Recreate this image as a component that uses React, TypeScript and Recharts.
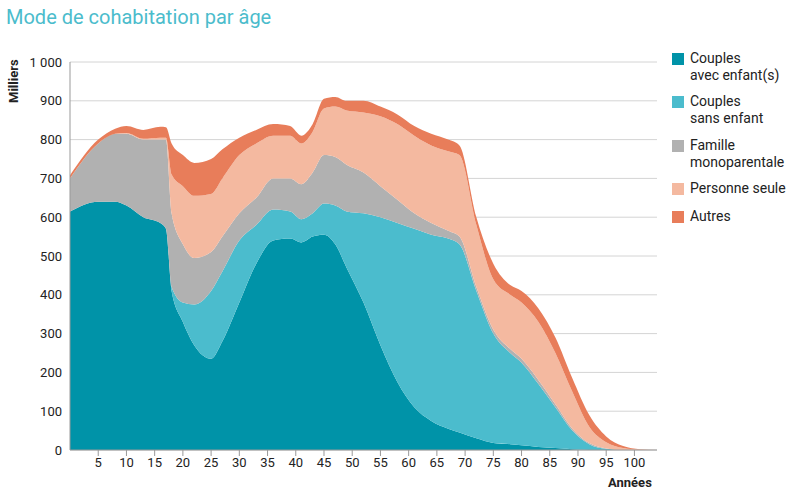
import { AreaChart, Area, XAxis, YAxis, CartesianGrid } from "recharts";

const ages = [0, 5, 8, 10, 13, 16, 17, 18, 20, 22, 25, 27, 30, 33, 36, 39, 41, 43, 45, 47, 49, 52, 55, 58, 61, 64, 67, 69, 72, 75, 78, 80, 83, 86, 89, 92, 95, 98, 101, 104];
// cumulative tops
const topEnfant = [615, 640, 640, 630, 600, 585, 570, 410, 330, 270, 235, 280, 380, 480, 540, 545, 535, 550, 555, 530, 470, 380, 270, 175, 110, 75, 55, 45, 30, 18, 15, 12, 8, 5, 2, 0, 0, 0, 0, 0];
const topSans = [615, 640, 640, 630, 600, 585, 570, 420, 380, 375, 410, 460, 540, 580, 620, 615, 595, 610, 635, 630, 615, 610, 600, 585, 570, 555, 545, 530, 410, 300, 250, 225, 170, 110, 50, 15, 3, 0, 0, 0];
const topFamille = [700, 790, 815, 815, 800, 800, 800, 610, 530, 495, 510, 550, 610, 650, 700, 700, 685, 715, 760, 755, 735, 715, 680, 645, 610, 585, 565, 550, 420, 310, 260, 235, 180, 118, 55, 18, 4, 0, 0, 0];
const topSeule = [700, 790, 815, 817, 802, 805, 805, 710, 680, 655, 660, 700, 760, 790, 810, 810, 790, 820, 880, 885, 875, 870, 860, 840, 810, 785, 770, 760, 580, 440, 400, 380, 330, 250, 150, 60, 20, 5, 1, 0];
const topAutres = [708, 800, 828, 835, 825, 833, 832, 790, 760, 740, 750, 775, 805, 825, 840, 835, 810, 840, 905, 910, 900, 900, 885, 865, 835, 815, 800, 785, 600, 480, 425, 410, 365, 290, 185, 90, 35, 10, 2, 0];

const yTicks = [0, 100, 200, 300, 400, 500, 600, 700, 800, 900, 1000];
const xTicks = [5, 10, 15, 20, 25, 30, 35, 40, 45, 50, 55, 60, 65, 70, 75, 80, 85, 90, 95, 100];

const series = [
  { key: "enfant", label: ["Couples", "avec enfant(s)"], color: "#0093a8" },
  { key: "sans", label: ["Couples", "sans enfant"], color: "#4bbccd" },
  { key: "famille", label: ["Famille", "monoparentale"], color: "#b1b1b1" },
  { key: "seule", label: ["Personne seule"], color: "#f4b9a0" },
  { key: "autres", label: ["Autres"], color: "#e87d5a" },
];

const data = ages.map((age, i) => ({
  age,
  enfant: topEnfant[i],
  sans: topSans[i] - topEnfant[i],
  famille: topFamille[i] - topSans[i],
  seule: topSeule[i] - topFamille[i],
  autres: topAutres[i] - topSeule[i],
}));

const font = "Roboto, sans-serif";
const legendTops = [50, 93, 137, 180, 208];

export default function App() {
  return (
    <div style={{ position: "absolute", left: 0, top: 0, width: 809, height: 499, fontFamily: font, background: "#fff" }}>
      <div style={{ position: "absolute", left: 6, top: 5, fontSize: 20, color: "#4bbccc" }}>Mode de cohabitation par âge</div>
      <div style={{ position: "absolute", left: 6, top: 103, transform: "rotate(-90deg)", transformOrigin: "left top", fontSize: 13, fontWeight: 700, color: "#222" }}>Milliers</div>
      <div style={{ position: "absolute", left: 608, top: 475, fontSize: 13, fontWeight: 700, color: "#222" }}>Années</div>
      <AreaChart width={660} height={499} data={data} margin={{ top: 62, right: 3, bottom: 19, left: 0 }}>
        <CartesianGrid vertical={false} stroke="#d4d4d4" />
        <XAxis dataKey="age" type="number" domain={[0, 104]} ticks={xTicks} height={30} interval={0}
          tick={{ fill: "#222", fontSize: 13, fontFamily: font }} tickLine={{ stroke: "#999" }} axisLine={{ stroke: "#999" }} />
        <YAxis width={70} domain={[0, 1000]} ticks={yTicks} interval={0}
          tickFormatter={(v: number) => (v >= 1000 ? "1 000" : String(v))}
          tick={{ fill: "#222", fontSize: 13, fontFamily: font }} tickLine={false} axisLine={{ stroke: "#999" }} />
        {series.map((s) => (
          <Area key={s.key} dataKey={s.key} stackId="a" type="monotone" stroke="none" fill={s.color} fillOpacity={1} isAnimationActive={false} />
        ))}
      </AreaChart>
      {series.map((s, i) => (
        <div key={s.key} style={{ position: "absolute", left: 672, top: legendTops[i], fontSize: 14, color: "#222", lineHeight: "17px" }}>
          <span style={{ position: "absolute", left: 0, top: 3, width: 12, height: 12, background: s.color }} />
          <div style={{ marginLeft: 18 }}>{s.label.map((l) => <div key={l}>{l}</div>)}</div>
        </div>
      ))}
    </div>
  );
}
